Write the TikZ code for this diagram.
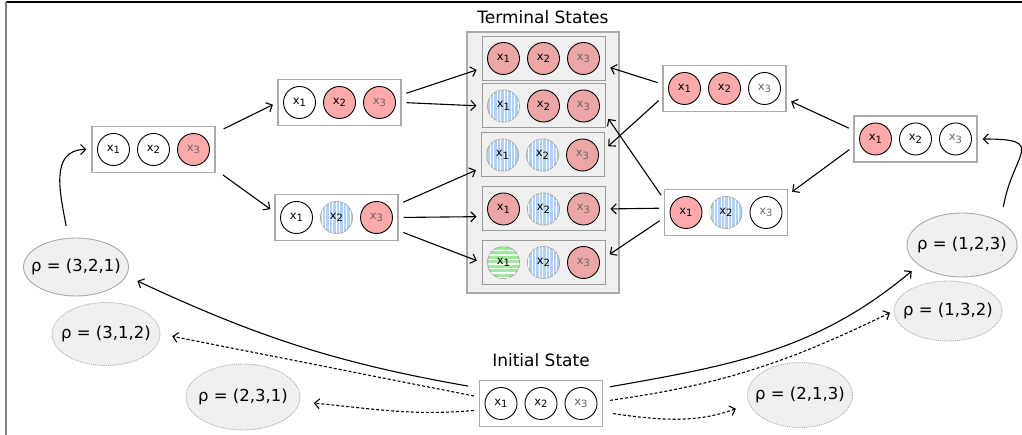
\documentclass[tikz,border=0pt]{standalone}
\usepackage{fontspec}
\setmainfont{DejaVu Sans}
\usepackage{tikz}
\usetikzlibrary{calc,positioning,shapes.geometric,patterns.meta,arrows.meta}

\definecolor{xred}{RGB}{255,170,170}
\definecolor{tred}{RGB}{236,166,166}
\definecolor{xblue}{RGB}{176,210,248}
\definecolor{xgreen}{RGB}{160,232,160}
\definecolor{shade}{RGB}{240,240,240}
\definecolor{edge}{RGB}{170,170,170}
\definecolor{inner}{RGB}{155,155,155}

\tikzset{
  var/.style={circle, draw=black, line width=0.9pt, minimum size=32pt, inner sep=0pt, font=\fontsize{11.5}{11.5}\selectfont},
  off/.style={var, fill=white},
  hit/.style={var, fill=xred},
  hitT/.style={var, fill=tred},
  blu/.style={var, draw=edge, fill=xblue, postaction={pattern={Lines[angle=90, distance=3.5pt, line width=0.8pt]}, pattern color=white}},
  grn/.style={var, draw=edge, fill=xgreen, postaction={pattern={Lines[angle=0, distance=4.5pt, line width=1.5pt]}, pattern color=white}},
  statebox/.style={draw=edge, line width=1.2pt, fill=white, minimum width=123pt, minimum height=46pt},
  termbox/.style={statebox, draw=inner, line width=1pt, fill=shade, minimum height=44pt},
  rho/.style={ellipse, draw=edge, line width=0.9pt, fill=shade, inner xsep=-14pt, inner ysep=0pt, font=\fontsize{16.5}{18}\selectfont},
  maybe/.style={rho, densely dotted},
  title/.style={inner sep=0pt, font=\fontsize{17}{20}\selectfont},
  arr/.style={-{Straight Barb[length=5pt, width=10pt]}, line width=1.1pt, shorten <=5pt, shorten >=5pt},
  darr/.style={arr, dash pattern=on 3pt off 2pt},
}

% box of three variables: name, box style, position, styles of x1 x2 x3
\newcommand{\sub}[1]{\raisebox{-2.5pt}{\fontsize{10}{10}\selectfont #1}}
\newcommand{\varbox}[6]{%
  \node[#2] (#1) at (#3) {};
  \node[#4] (#1-1) at ($(#1)+(-40,0)$) {x\sub{1}};
  \node[#5] (#1-2) at (#1) {x\sub{2}};
  \node[#6, text=black!60] (#1-3) at ($(#1)+(40,0)$) {x\sub{3}};
}

\begin{document}
\begin{tikzpicture}[x=1pt, y=1pt]
\useasboundingbox (0,0) rectangle (1022,435);
% page edge
\draw[line width=1.6pt] (6,433) -- (1022,433);
\draw[line width=2pt, gray] (6,433) -- (6,0);

% terminal states
\node[draw=edge, fill=shade, line width=1.2pt, minimum width=152pt, minimum height=261pt] (term) at (543,272.5) {};
\node[title, above=7pt of term] (termlbl) {Terminal States};
\varbox{t1}{termbox}{543.5,376.5}{hitT}{hitT}{hitT}
\varbox{t2}{termbox}{543.5,329}{blu}{hitT}{hitT}
\varbox{t3}{termbox}{542.5,280}{blu}{blu}{hitT}
\varbox{t4}{termbox}{543.5,226}{hitT}{blu}{hitT}
\varbox{t5}{termbox}{543.5,172.5}{grn}{blu}{hitT}

% left branch
\varbox{a}{statebox}{153.5,285.5}{off}{off}{hit}
\varbox{b}{statebox}{339.5,332.5}{off}{hit}{hit}
\varbox{c}{statebox}{336.5,217.5}{off}{blu}{hit}
% right branch
\varbox{d}{statebox}{724.5,346.5}{hit}{hit}{off}
\varbox{e}{statebox}{726,222.5}{hit}{blu}{off}
\varbox{f}{statebox}{915.5,296}{hit}{off}{off}

% initial state
\varbox{init}{statebox}{541,31.5}{off}{off}{off}
\node[title, above=13pt of init] (initlbl) {Initial State};

% orderings
\node[rho, minimum width=105pt, minimum height=58pt] (r321) at (76,168) {ρ = (3,2,1)};
\node[maybe, minimum width=108pt, minimum height=63pt] (r312) at (106,101) {ρ = (3,1,2)};
\node[maybe, minimum width=114pt, minimum height=66pt] (r231) at (243,38) {ρ = (2,3,1)};
\node[rho, minimum width=110pt, minimum height=64pt] (r123) at (962,190) {ρ = (1,2,3)};
\node[maybe, minimum width=108pt, minimum height=60pt] (r132) at (948,124) {ρ = (1,3,2)};
\node[maybe, minimum width=105pt, minimum height=65pt] (r213) at (800,40) {ρ = (2,1,3)};

\draw[arr, shorten <=11pt, shorten >=12pt] (init.166) to[out=170, in=-25] (r321.-10);
\draw[darr, shorten >=12pt] (init.174) -- (r312.east);
\draw[darr, shorten >=14pt] (init.186) to[out=185, in=-5] (r231.-5);
\draw[arr, shorten <=7pt, shorten >=9pt] (init.14) to[out=10, in=-140] (r123.205);
\draw[darr, shorten <=7pt, shorten >=4pt] (init.2) to[out=8, in=-154] (r132.west);
\draw[darr, shorten <=10pt, shorten >=14pt] (init.-8) to[out=-8, in=200] (r213.190);

\draw[arr, shorten <=12pt] (r321.105) to[out=100, in=180, looseness=1.2] (a.west);
\draw[arr, shorten <=15pt] (r123.31) to[out=80, in=0, looseness=2.1] (f.east);

% expanding the states
\draw[arr, shorten <=9pt] (a.15) -- (b.west);
\draw[arr, shorten <=9pt] (a.-18) -- (c.175);
\draw[arr] (b.7) -- (t1.189);
\draw[arr] (b.east) -- (t2.west);
\draw[arr] (c.12) -- (t3.192);
\draw[arr] (c.east) -- (t4.187);
\draw[arr] (c.-12) -- (t5.west);
\draw[arr] (f.172) -- (d.-10);
\draw[arr] (f.187) -- (e.16);
\draw[arr] (d.176) -- (t1.-7);
\draw[arr] (d.188) -- (t3.5);
\draw[arr] (e.168) -- (t2.-8);
\draw[arr] (e.176) -- (t4.east);
\draw[arr] (e.185) -- (t5.5);
\end{tikzpicture}
\end{document}
